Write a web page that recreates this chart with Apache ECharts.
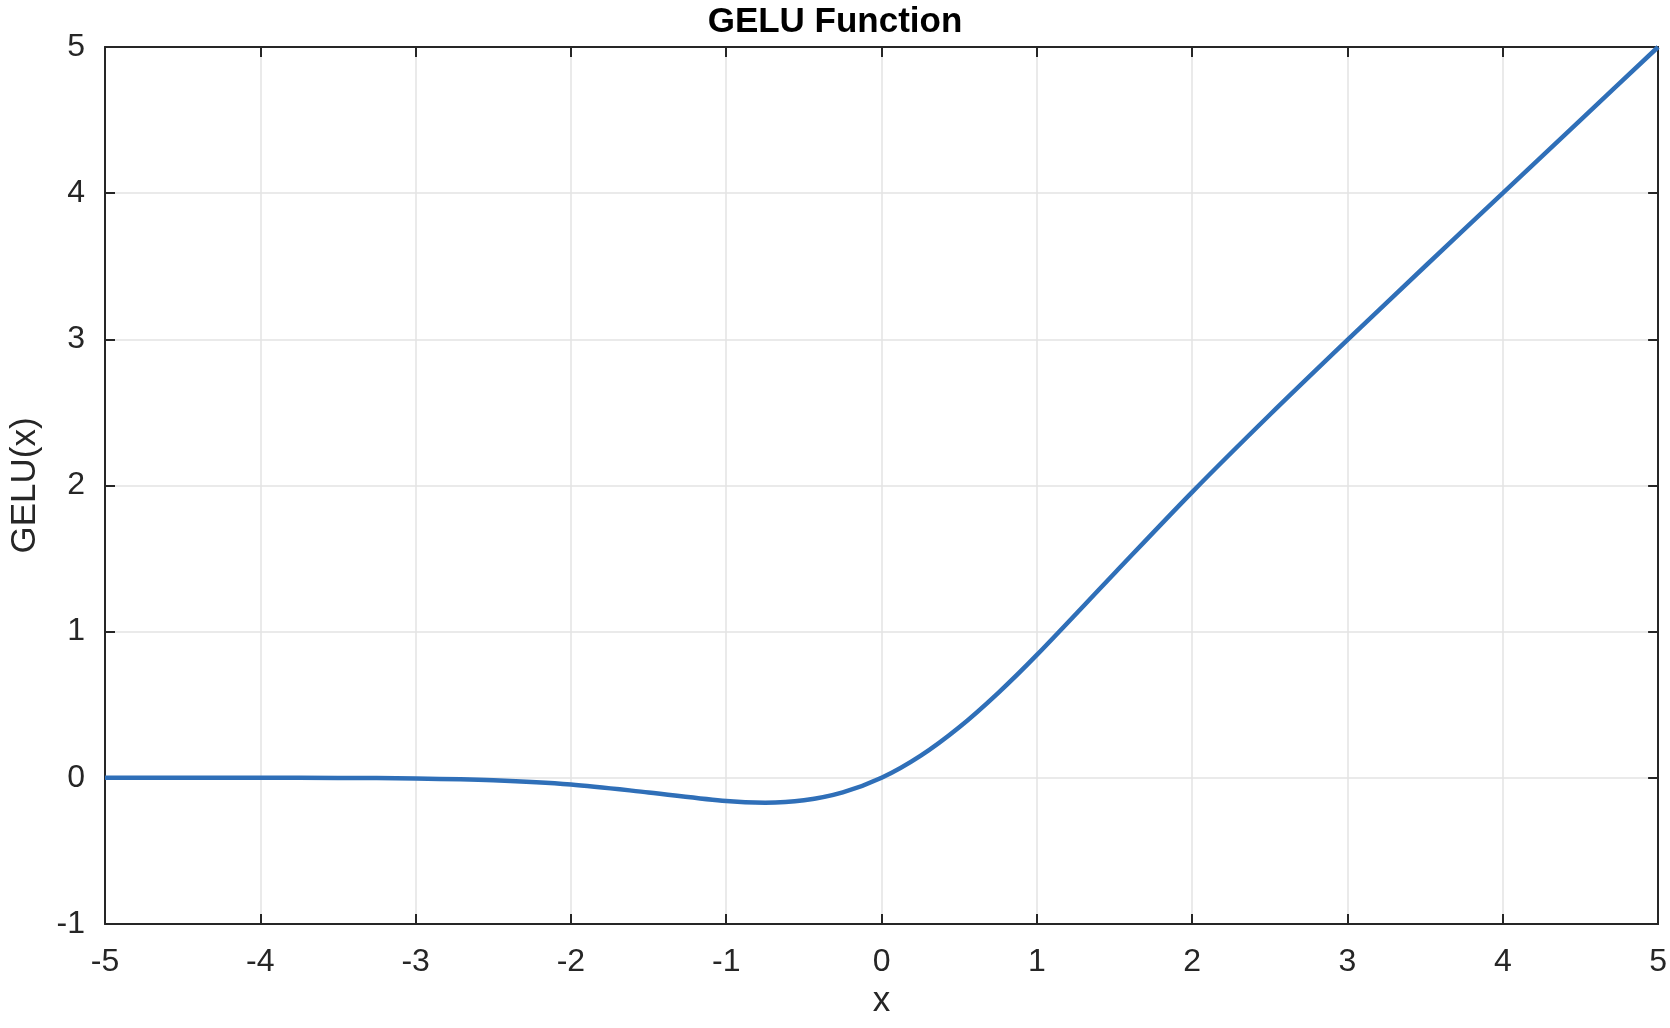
<!DOCTYPE html>
<html>
<head>
<meta charset="utf-8">
<script src="https://cdn.jsdelivr.net/npm/echarts@6/dist/echarts.min.js"></script>
<style>html,body{margin:0;background:#fff}#c{width:1670px;height:1028px}</style>
</head>
<body>
<div id="c"></div>
<script>
// x 坐标与读出的 GELU 值
var xs = [-5, -4.5, -4, -3.5, -3, -2.5, -2, -1.5, -1, -0.75, -0.5, -0.25, 0, 0.25, 0.5, 0.75, 1, 1.5, 2, 2.5, 3, 3.5, 4, 4.5, 5];
var ys = [0, 0, 0, -0.001, -0.004, -0.016, -0.045, -0.1, -0.159, -0.17, -0.154, -0.1, 0, 0.15, 0.346, 0.58, 0.841, 1.4, 1.955, 2.484, 2.996, 3.5, 4, 4.5, 5];
var xTicks = [-5, -4, -3, -2, -1, 0, 1, 2, 3, 4, 5];
var yTicks = [-1, 0, 1, 2, 3, 4, 5];

var pts = xs.map(function (x, i) { return [x, ys[i]]; });
var chart = echarts.init(document.getElementById('c'));
var font = 'Helvetica, Arial, "Liberation Sans", sans-serif';
var axisCommon = {
  axisLine: { show: true, onZero: false, lineStyle: { color: '#262626', width: 2 } },
  axisTick: { show: true, inside: true, length: 10, lineStyle: { color: '#262626', width: 2 } },
  splitLine: { show: true, lineStyle: { color: '#e3e3e3', width: 1.5 } },
  axisLabel: { color: '#262626', fontSize: 32, fontFamily: font }
};
var xRange = { type: 'value', min: xTicks[0], max: xTicks[xTicks.length - 1], interval: 1 };
var yRange = { type: 'value', min: yTicks[0], max: yTicks[yTicks.length - 1], interval: 1 };
// 顶部和右侧只画刻度
var mirror = {
  axisLine: axisCommon.axisLine, axisTick: axisCommon.axisTick,
  splitLine: { show: false }, axisLabel: { show: false }
};
chart.setOption({
  animation: false,
  title: { text: 'GELU Function', left: 'center', top: 0, textStyle: { fontSize: 35, fontWeight: 'bold', color: '#000', fontFamily: font } },
  grid: { left: 100, right: 10, top: 47, bottom: 104 },
  xAxis: [
    Object.assign({}, axisCommon, xRange, {
      name: 'x', nameLocation: 'middle', nameGap: 60,
      nameTextStyle: { fontSize: 35, color: '#262626', fontFamily: font },
      axisLabel: Object.assign({}, axisCommon.axisLabel, { margin: 22 })
    }),
    Object.assign({}, mirror, xRange, { position: 'top' })
  ],
  yAxis: [
    Object.assign({}, axisCommon, yRange, {
      name: 'GELU(x)', nameLocation: 'middle', nameGap: 62,
      nameTextStyle: { fontSize: 35, color: '#262626', fontFamily: font },
      axisLabel: Object.assign({}, axisCommon.axisLabel, { margin: 20 })
    }),
    Object.assign({}, mirror, yRange, { position: 'right' })
  ],
  series: [{
    type: 'line', data: pts, smooth: 0.3, showSymbol: false,
    lineStyle: { color: '#2f6fb8', width: 4.5 }
  }]
});
</script>
</body>
</html>
